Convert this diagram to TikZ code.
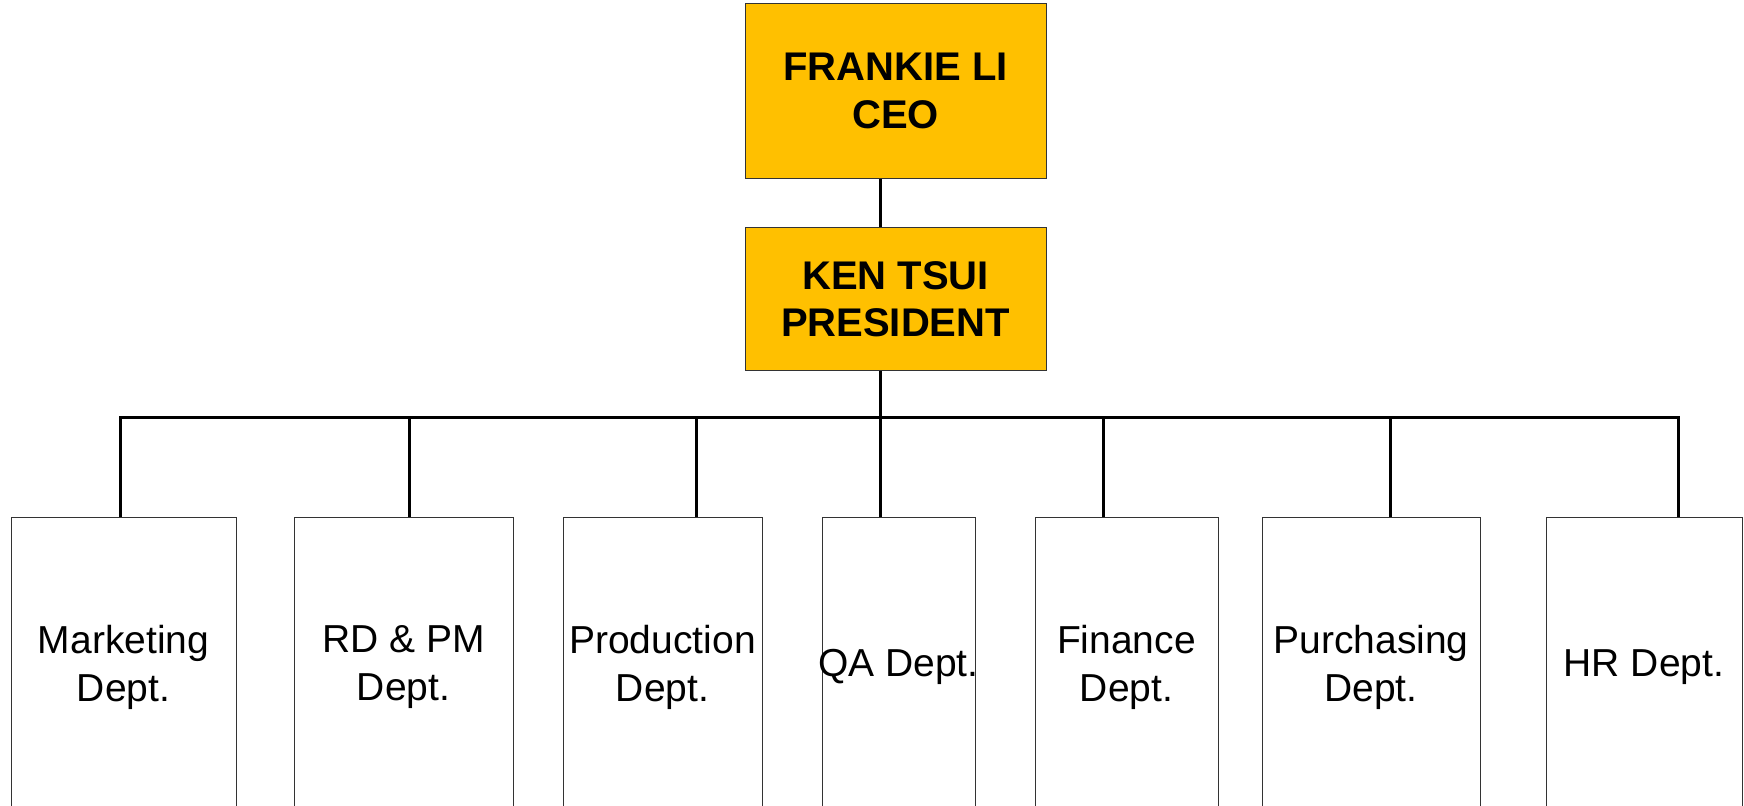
\documentclass[tikz,border=0pt]{standalone}
\usepackage{fontspec}
\setmainfont{Liberation Sans}
\usepackage{tikz}
\usetikzlibrary{positioning}
\definecolor{bossfill}{HTML}{FFC000}
\definecolor{edge}{HTML}{333333}

\begin{document}
\begin{tikzpicture}[x=0.5pt, y=-0.5pt,
  boss/.style={draw=edge, fill=bossfill, line width=0.5pt, minimum width=150.5pt, inner sep=0pt, align=center, font=\bfseries\fontsize{20}{23.75}\selectfont},
  dept/.style={draw=edge, fill=white, line width=0.5pt, minimum height=149pt, inner sep=0pt, align=center, font=\fontsize{19.5}{24}\selectfont},
  link/.style={line width=1.5pt}]
\useasboundingbox (0,0) rectangle (1744,806);
\clip (0,0) rectangle (1744,806);
\node (ceo) [boss, minimum height=87.5pt] at (895.5,91) {FRANKIE LI\\CEO};
\node (pres) [boss, minimum height=71.5pt, below=24pt of ceo] {KEN TSUI\\PRESIDENT};
\node (mkt) [dept, minimum width=112.5pt] at (123.5,667) {Marketing\\Dept.};
\node (rdpm) [dept, minimum width=109.5pt, right=28.5pt of mkt] {RD \& PM\\Dept.};
\node (prod) [dept, minimum width=99.5pt, right=24.5pt of rdpm] {Production\\Dept.};
\node (qa) [dept, minimum width=76.5pt, right=29.5pt of prod] {\makebox[76.5pt]{QA Dept.}};
\node (fin) [dept, minimum width=91.5pt, right=29.5pt of qa] {Finance\\Dept.};
\node (purch) [dept, minimum width=109pt, right=21.5pt of fin] {Purchasing\\Dept.};
\node (hr) [dept, minimum width=98pt, right=32.5pt of purch] {HR Dept.};
\coordinate (bus) at (880,418);
\draw[link] ([xshift=-7.75pt]ceo.south) -- ([xshift=-7.75pt]pres.north);
\draw[link] ([xshift=-7.75pt]pres.south) -- (bus);
\draw[link] (bus) -| ([xshift=-1.75pt]mkt.north);
\draw[link] (bus) -| ([xshift=2.75pt]rdpm.north);
\draw[link] (bus) -| ([xshift=16.75pt]prod.north);
\draw[link] (bus) -| ([xshift=-9.25pt]qa.north);
\draw[link] (bus) -| ([xshift=-11.75pt]fin.north);
\draw[link] (bus) -| ([xshift=9.5pt]purch.north);
\draw[link] (bus) -| ([xshift=17pt]hr.north);
\end{tikzpicture}
\end{document}
